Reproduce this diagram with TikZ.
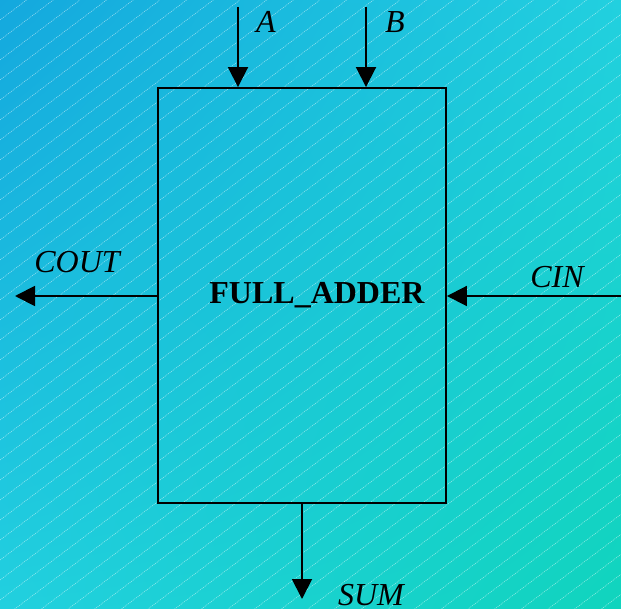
\documentclass[tikz,border=0pt]{standalone}
\usepackage{fontspec}
\setmainfont{Liberation Serif}
\usetikzlibrary{arrows.meta,shadings}
\definecolor{bgA}{HTML}{14A8DE}
\definecolor{bgX}{HTML}{22D0DF}
\definecolor{bgC}{HTML}{10D4BD}
\begin{document}
\begin{tikzpicture}[x=1pt,y=-1pt,
  wire/.style={line width=1.9pt,-{Triangle[length=20pt,width=20pt]}},
  lbl/.style={inner sep=0pt,font=\itshape\fontsize{32}{36}\selectfont},
  hatch/.style={white,opacity=0.55,line width=0.6pt,dash pattern=on 1pt off 1pt}]
\useasboundingbox (0,0) rectangle (621,609);
\begin{scope}[y=1pt]
  \shade[upper left=bgA,upper right=bgX,lower left=bgX,lower right=bgC] (0,-609) rectangle (621,0);
\end{scope}
\begin{scope}
  \clip (0,0) rectangle (621,609);
  \foreach \c in {0,20,...,1100} {
    \draw[hatch] (0,\c) -- ({\c/0.75},0);
  }
\end{scope}
\node[draw,line width=1.9pt,minimum width=288pt,minimum height=415pt,inner sep=0pt] (fa) at (302,295.5) {};
\node[inner sep=0pt,font=\bfseries\fontsize{32}{36}\selectfont] (title) at (317,295) {FULL\_ADDER};
\coordinate (ain) at (238,7);
\coordinate (bin) at (366,7);
\coordinate (cout) at (15,296);
\coordinate (cin) at (621,296);
\coordinate (sum) at (302,599);
\draw[wire] (ain) -- (ain |- fa.north);
\draw[wire] (bin) -- (bin |- fa.north);
\draw[wire] (fa.west |- cout) -- (cout);
\draw[wire] (cin) -- (fa.east |- cin);
\draw[wire] (fa.south) -- (sum);
\node[lbl] (la) at (266,22) {A};
\node[lbl] (lb) at (395,22) {B};
\node[lbl] (lcout) at (77,262) {COUT};
\node[lbl] (lcin) at (557,277) {CIN};
\node[lbl] (lsum) at (371,595) {SUM};
\end{tikzpicture}
\end{document}
